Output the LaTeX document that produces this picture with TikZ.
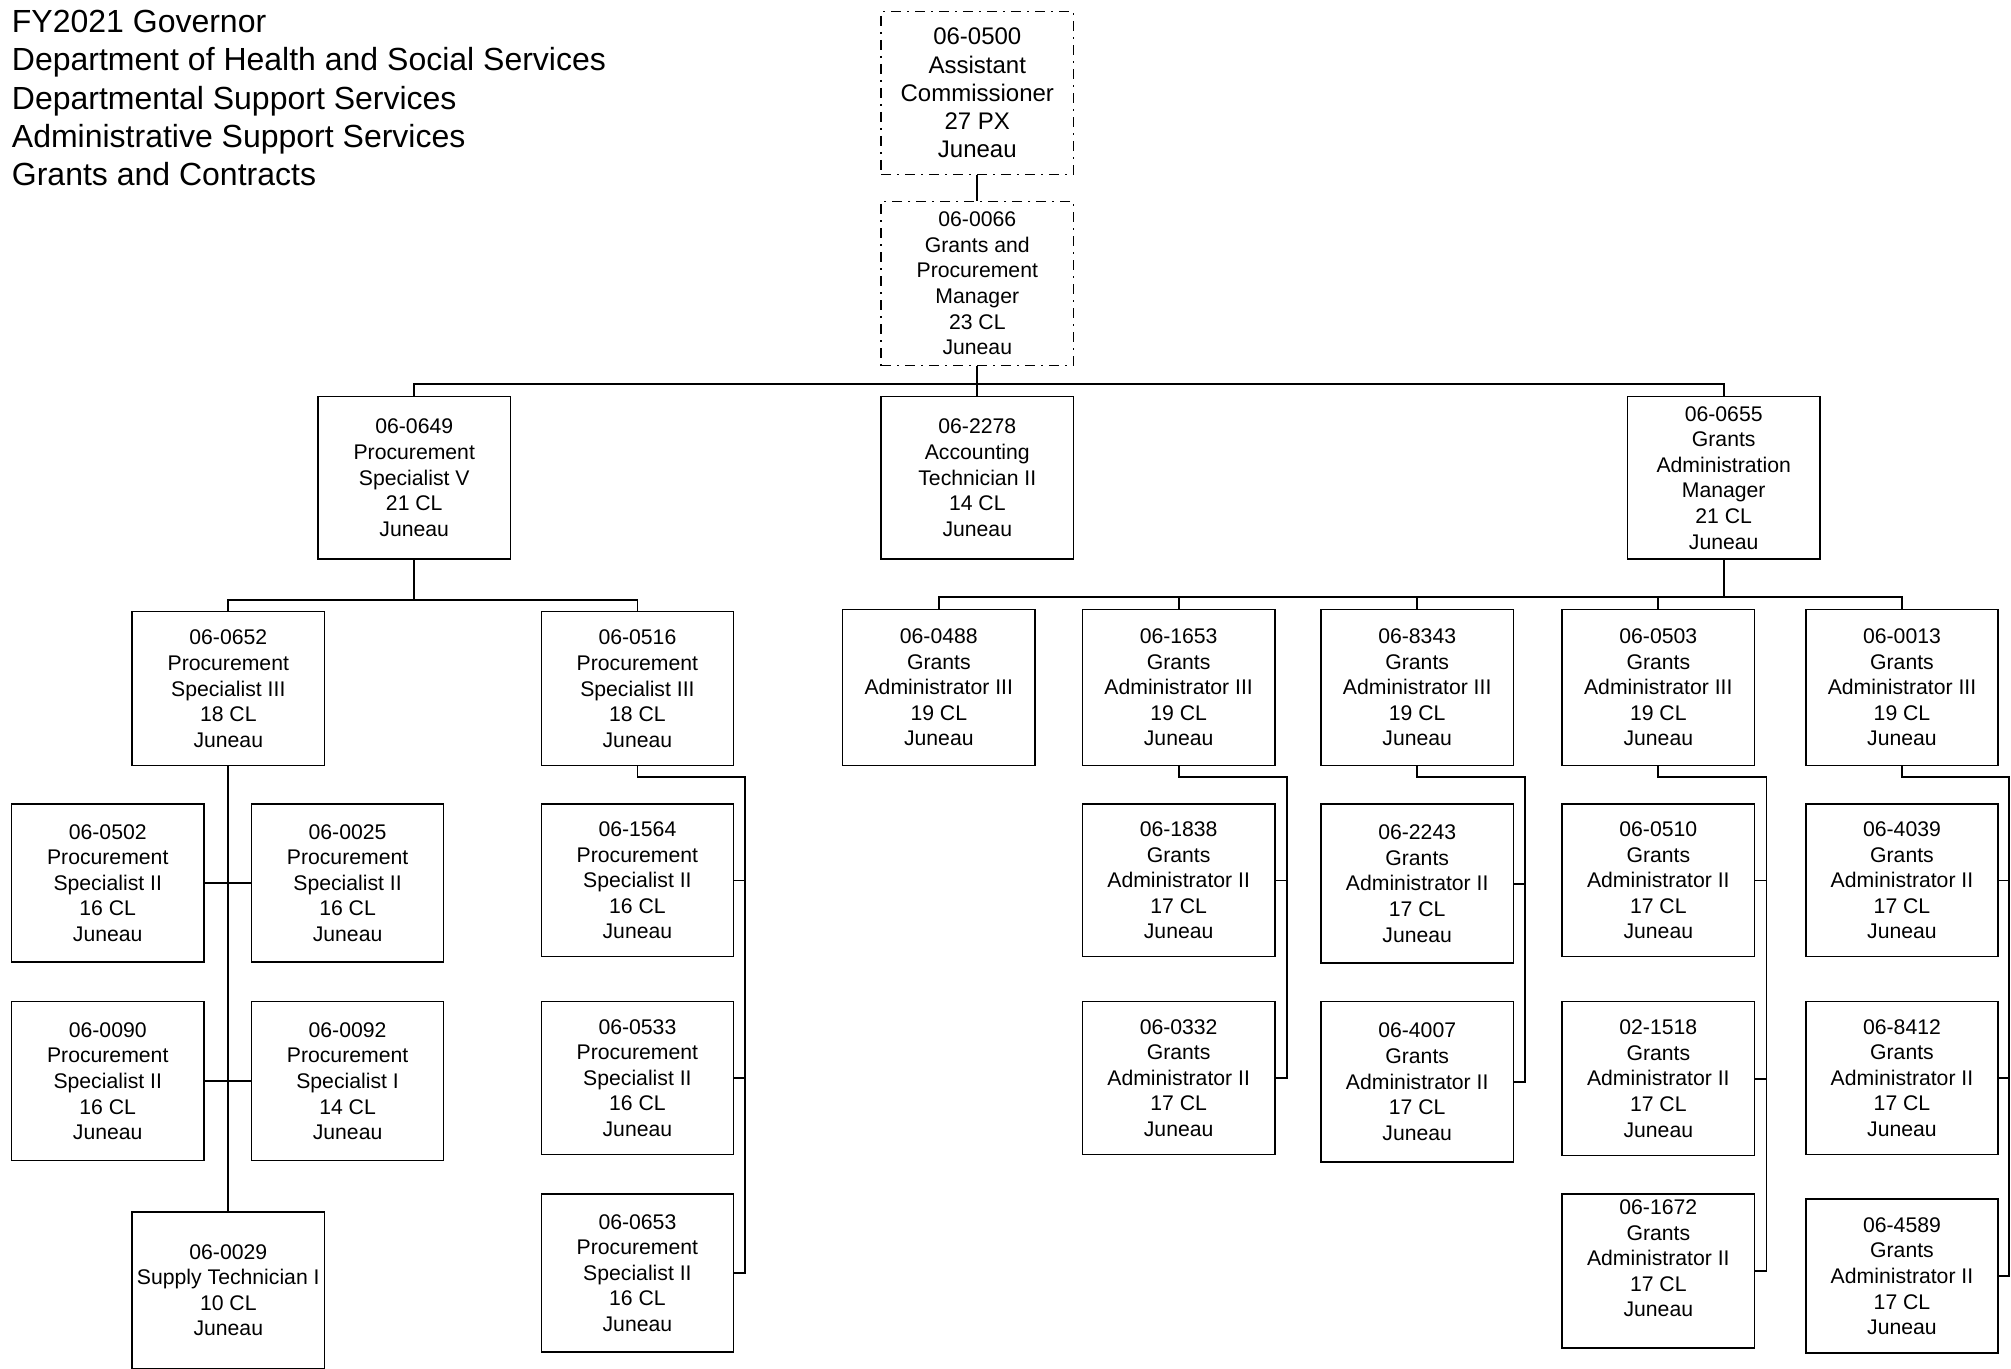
\documentclass[tikz,border=0pt]{standalone}
\usepackage{fontspec}
\setmainfont{Liberation Sans}

\begin{document}
\begin{tikzpicture}[
  x=0.6413pt, y=-0.6413pt,
  box/.style={draw, line width=0.7pt, align=center, inner sep=0pt,
              minimum width=96.2pt, minimum height=77pt,
              font=\fontsize{10.6}{12.8}\selectfont},
  tall/.style={minimum height=81.4pt},
  vacant/.style={box, dash pattern=on 5pt off 3pt on 1pt off 3pt},
  header/.style={anchor=north west, align=left, inner sep=0pt,
                 font=\fontsize{16}{19.2}\selectfont},
  link/.style={line width=0.9pt},
  ]
\useasboundingbox (0,0) rectangle (1568,1067);

\node[header] (hdr) at (9,7.5) {FY2021 Governor\\Department of Health and Social Services\\Departmental Support Services\\Administrative Support Services\\Grants and Contracts};

% top of the unit
\node[vacant, tall, font=\fontsize{12}{14.1}\selectfont] (p0500) at (762,72.5) {06-0500\\Assistant\\Commissioner\\27 PX\\Juneau};
\node[vacant, minimum height=82.1pt] (p0066) at (762,221) {06-0066\\Grants and\\Procurement\\Manager\\23 CL\\Juneau};

\node[box, tall] (p0649) at (323,372.5) {06-0649\\Procurement\\Specialist V\\21 CL\\Juneau};
\node[box, tall] (p2278) at (762,372.5) {06-2278\\Accounting\\Technician II\\14 CL\\Juneau};
\node[box, tall] (p0655) at (1344,372.5) {06-0655\\Grants\\Administration\\Manager\\21 CL\\Juneau};

% procurement side
\node[box] (p0652) at (178,537) {06-0652\\Procurement\\Specialist III\\18 CL\\Juneau};
\node[box] (p0516) at (497,537) {06-0516\\Procurement\\Specialist III\\18 CL\\Juneau};

\node[box, minimum height=78.9pt] (p0502) at (84,688.5) {06-0502\\Procurement\\Specialist II\\16 CL\\Juneau};
\node[box, minimum height=78.9pt] (p0025) at (271,688.5) {06-0025\\Procurement\\Specialist II\\16 CL\\Juneau};
\node[box, minimum height=79.5pt] (p0090) at (84,843) {06-0090\\Procurement\\Specialist II\\16 CL\\Juneau};
\node[box, minimum height=79.5pt] (p0092) at (271,843) {06-0092\\Procurement\\Specialist I\\14 CL\\Juneau};
\node[box, minimum height=78.2pt] (p0029) at (178,1006) {06-0029\\Supply Technician I\\10 CL\\Juneau};

\node[box, minimum height=76.3pt] (p1564) at (497,686.5) {06-1564\\Procurement\\Specialist II\\16 CL\\Juneau};
\node[box, minimum height=76.3pt] (p0533) at (497,840.5) {06-0533\\Procurement\\Specialist II\\16 CL\\Juneau};
\node[box, minimum height=78.9pt] (p0653) at (497,992.5) {06-0653\\Procurement\\Specialist II\\16 CL\\Juneau};

% grants side
\node[box, minimum height=78.2pt] (p0488) at (732,536) {06-0488\\Grants\\Administrator III\\19 CL\\Juneau};
\node[box, minimum height=78.2pt] (p1653) at (919,536) {06-1653\\Grants\\Administrator III\\19 CL\\Juneau};
\node[box, minimum height=78.2pt] (p8343) at (1105,536) {06-8343\\Grants\\Administrator III\\19 CL\\Juneau};
\node[box, minimum height=78.2pt] (p0503) at (1293,536) {06-0503\\Grants\\Administrator III\\19 CL\\Juneau};
\node[box, minimum height=78.2pt] (p0013) at (1483,536) {06-0013\\Grants\\Administrator III\\19 CL\\Juneau};

\node[box, minimum height=76.3pt] (p1838) at (919,686.5) {06-1838\\Grants\\Administrator II\\17 CL\\Juneau};
\node[box, minimum height=76.3pt] (p0332) at (919,840.5) {06-0332\\Grants\\Administrator II\\17 CL\\Juneau};

\node[box, minimum height=79.5pt] (p2243) at (1105,689) {06-2243\\Grants\\Administrator II\\17 CL\\Juneau};
\node[box, minimum height=80.2pt] (p4007) at (1105,843.5) {06-4007\\Grants\\Administrator II\\17 CL\\Juneau};

\node[box, minimum height=76.3pt] (p0510) at (1293,686.5) {06-0510\\Grants\\Administrator II\\17 CL\\Juneau};
\node[box] (p1518) at (1293,841) {02-1518\\Grants\\Administrator II\\17 CL\\Juneau};
\node[box] (p1672) at (1293,991) {06-1672\\Grants\\Administrator II\\17 CL\\Juneau\\\mbox{}};

\node[box, minimum height=76.3pt] (p4039) at (1483,686.5) {06-4039\\Grants\\Administrator II\\17 CL\\Juneau};
\node[box, minimum height=76.3pt] (p8412) at (1483,840.5) {06-8412\\Grants\\Administrator II\\17 CL\\Juneau};
\node[box] (p4589) at (1483,995) {06-4589\\Grants\\Administrator II\\17 CL\\Juneau};

% reporting lines
\draw[link] (p0500) -- (p0066);
\draw[link] (p0066.south) -- ++(0,14) -| (p0649.north);
\draw[link] (p0066.south) -- (p2278.north);
\draw[link] (p0066.south) -- ++(0,14) -| (p0655.north);

\draw[link] (p0649.south) -- ++(0,31) -| (p0652.north);
\draw[link] (p0649.south) -- ++(0,31) -| (p0516.north);

\draw[link] (p0655.south) -- ++(0,29) -| (p0488.north);
\draw[link] (p0655.south) -- ++(0,29) -| (p1653.north);
\draw[link] (p0655.south) -- ++(0,29) -| (p8343.north);
\draw[link] (p0655.south) -- ++(0,29) -| (p0503.north);
\draw[link] (p0655.south) -- ++(0,29) -| (p0013.north);

\draw[link] (p0652.south) -- (p0029.north);
\draw[link] (p0502.east) -- (p0025.west);
\draw[link] (p0090.east) -- (p0092.west);

\draw[link] (p0516.south) -- ++(0,8) -| ([xshift=5.2pt]p1564.east) -- (p1564.east);
\draw[link] (p0516.south) -- ++(0,8) -| ([xshift=5.2pt]p0533.east) -- (p0533.east);
\draw[link] (p0516.south) -- ++(0,8) -| ([xshift=5.2pt]p0653.east) -- (p0653.east);

\draw[link] (p1653.south) -- ++(0,8) -| ([xshift=5.6pt]p1838.east) -- (p1838.east);
\draw[link] (p1653.south) -- ++(0,8) -| ([xshift=5.6pt]p0332.east) -- (p0332.east);

\draw[link] (p8343.south) -- ++(0,8) -| ([xshift=5.6pt]p2243.east) -- (p2243.east);
\draw[link] (p8343.south) -- ++(0,8) -| ([xshift=5.6pt]p4007.east) -- (p4007.east);

\draw[link] (p0503.south) -- ++(0,8) -| ([xshift=5.6pt]p0510.east) -- (p0510.east);
\draw[link] (p0503.south) -- ++(0,8) -| ([xshift=5.6pt]p1518.east) -- (p1518.east);
\draw[link] (p0503.south) -- ++(0,8) -| ([xshift=5.6pt]p1672.east) -- (p1672.east);

\draw[link] (p0013.south) -- ++(0,8) -| ([xshift=5.2pt]p4039.east) -- (p4039.east);
\draw[link] (p0013.south) -- ++(0,8) -| ([xshift=5.2pt]p8412.east) -- (p8412.east);
\draw[link] (p0013.south) -- ++(0,8) -| ([xshift=5.2pt]p4589.east) -- (p4589.east);
\end{tikzpicture}
\end{document}
